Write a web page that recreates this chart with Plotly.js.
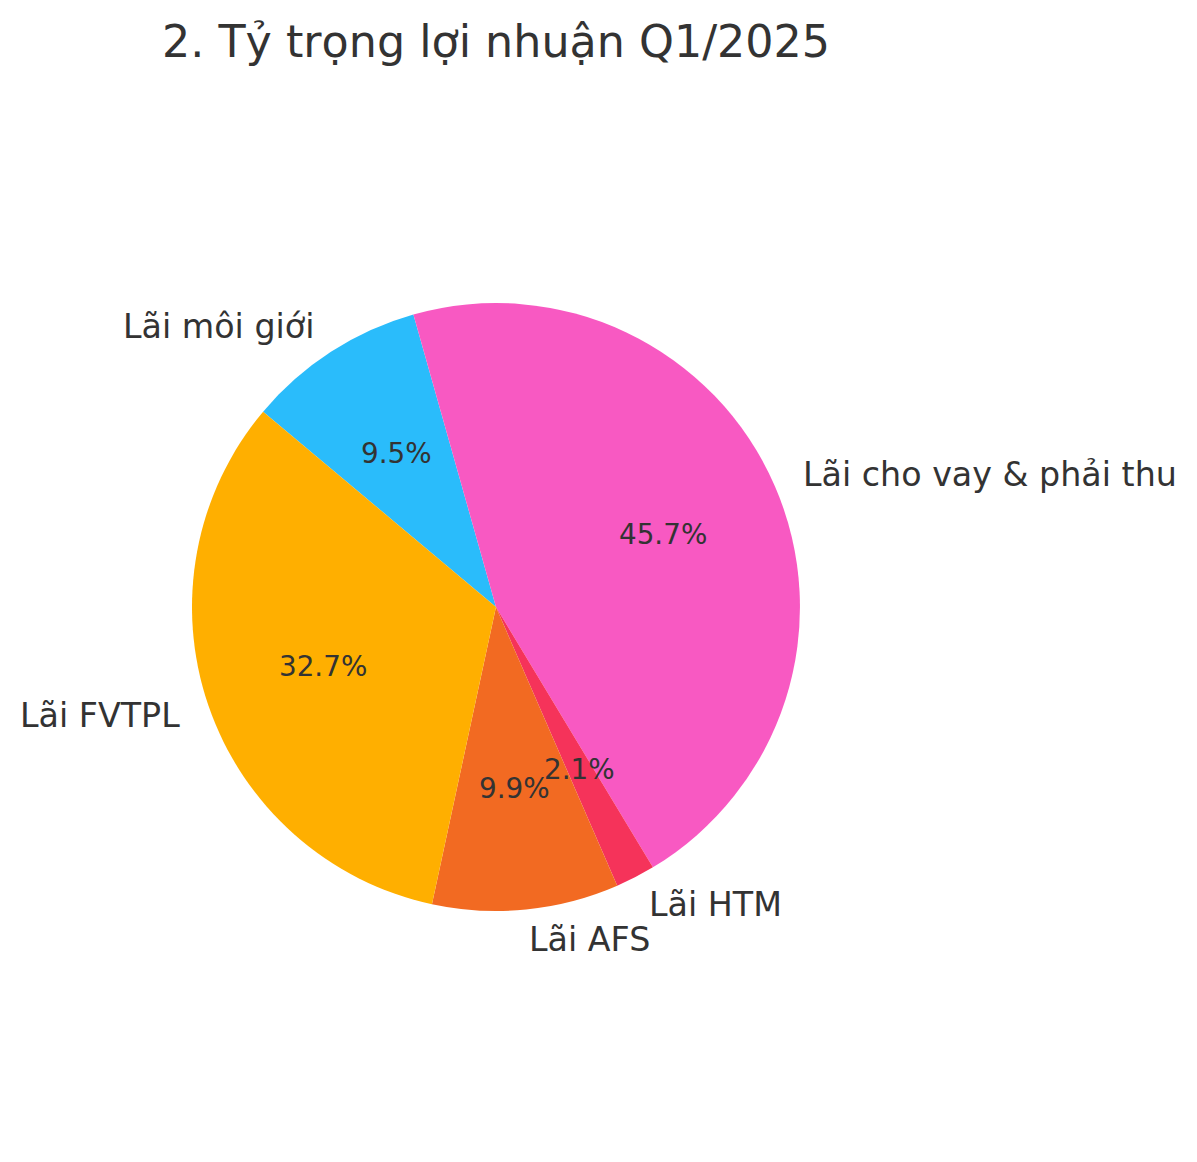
<!DOCTYPE html>
<html>
<head>
<meta charset="utf-8">
<script src="https://cdn.plot.ly/plotly-3.0.1.min.js"></script>
<style>
  body { margin: 0; background: #fff; }
  #chart { width: 1197px; height: 1162px; }
</style>
</head>
<body>
<div id="chart"></div>
<script>
    // Slices, listed in drawing order (clockwise from the upper-left edge)
    const labels = ["Lãi môi giới", "Lãi cho vay & phải thu", "Lãi HTM", "Lãi AFS", "Lãi FVTPL"];
    const shares = [9.5, 45.7, 2.1, 9.9, 32.7];
    const colors = ["#2abcfb", "#f859c2", "#f5335a", "#f26a22", "#ffaf00"];

    const W = 1197, H = 1162;
    const textColor = "#333333";
    const fontFamily = "DejaVu Sans, sans-serif";

    const pieDomain = { x: [0.1604, 0.6683], y: [0.2160, 0.7392] };
    const rotation = -50;          // first slice starts at 140 deg (counted from 3 o'clock)
    const pctDistance = 0.6;       // percentages sit at 60% of the radius
    const labelDistance = 1.1;     // names sit just outside the rim

    // Pie geometry in paper units, taken from the same domain the trace uses
    const cx = (pieDomain.x[0] + pieDomain.x[1]) / 2;
    const cy = (pieDomain.y[0] + pieDomain.y[1]) / 2;
    const rPx = Math.min((pieDomain.x[1] - pieDomain.x[0]) * W, (pieDomain.y[1] - pieDomain.y[0]) * H) / 2;
    const total = shares.reduce((a, b) => a + b, 0);

    // Mid-angle of every slice, going clockwise like the trace
    const midAngles = [];
    let start = 90 - rotation;
    shares.forEach(v => {
        const span = v / total * 360;
        midAngles.push((start - span / 2) * Math.PI / 180);
        start -= span;
    });

    function at(angle, dist) {
        return {
            x: cx + dist * rPx * Math.cos(angle) / W,
            y: cy + dist * rPx * Math.sin(angle) / H
        };
    }

    const annotations = [];
    labels.forEach((name, i) => {
        const a = midAngles[i];
        const p = at(a, pctDistance);
        annotations.push({
            xref: "paper", yref: "paper", x: p.x, y: p.y,
            xanchor: "center", yanchor: "middle", showarrow: false,
            borderpad: 0, borderwidth: 0,
            text: (shares[i] / total * 100).toFixed(1) + "%",
            font: { size: 27.8, color: textColor, family: fontFamily }
        });
        const q = at(a, labelDistance);
        annotations.push({
            xref: "paper", yref: "paper", x: q.x, y: q.y,
            xanchor: Math.cos(a) > 0 ? "left" : "right", yanchor: "middle", showarrow: false,
            borderpad: 0, borderwidth: 0,
            text: name,
            font: { size: 33.3, color: textColor, family: fontFamily }
        });
    });

    const slices = {
        type: "pie",
        labels: labels,
        values: shares,
        sort: false,
        direction: "clockwise",
        rotation: rotation,
        domain: pieDomain,
        marker: { colors: colors, line: { width: 0 } },
        textinfo: "none",
        hovertemplate: "%{label}<br>%{percent:.1%}<extra></extra>",
        showlegend: false
    };

    const layout = {
        width: W,
        height: H,
        margin: { l: 0, r: 0, t: 0, b: 0 },
        paper_bgcolor: "#ffffff",
        title: {
            text: "2. Tỷ trọng lợi nhuận Q1/2025",
            font: { size: 44.4, color: textColor, family: fontFamily },
            x: 0.4144,
            xanchor: "center",
            y: 0.964,
            yanchor: "middle"
        },
        annotations: annotations,
        showlegend: false
    };

    Plotly.newPlot("chart", [slices], layout, { displayModeBar: false });
</script>
</body>
</html>
